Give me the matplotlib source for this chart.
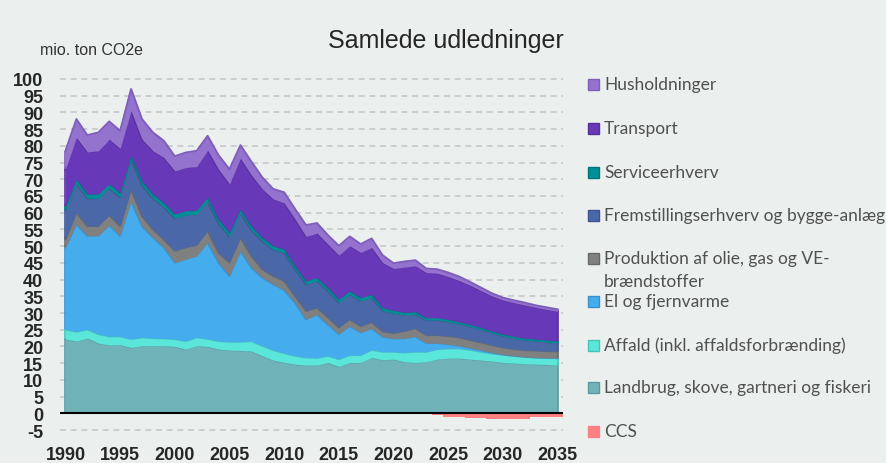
import matplotlib
matplotlib.use("Agg")
import matplotlib.pyplot as plt
import numpy as np

plt.rcParams['axes.unicode_minus'] = False

# data (mio. ton CO2e)
years = np.arange(1990, 2036)

landbrug = [22.2, 21.6, 22.5, 21.0, 20.4, 20.5, 19.7, 20.2, 20.2, 20.2,
            20.0, 19.2, 20.2, 20.0, 19.2, 18.9, 18.8, 18.6, 17.2, 15.9,
            15.2, 14.7, 14.4, 14.4, 15.2, 14.0, 15.2, 15.2, 16.7, 16.0,
            16.2, 15.4, 15.2, 15.4, 16.2, 16.5, 16.5, 16.2, 15.9, 15.6,
            15.2, 15.0, 14.8, 14.7, 14.6, 14.4]
affald = [2.9, 2.8, 2.6, 2.7, 2.6, 2.5, 2.5, 2.5, 2.3, 2.2,
          2.2, 2.4, 2.5, 2.3, 2.4, 2.5, 2.6, 3.0, 3.0, 3.0,
          2.8, 2.5, 2.3, 2.2, 2.0, 2.2, 2.2, 2.2, 2.3, 2.4,
          2.2, 2.8, 3.2, 3.0, 3.0, 2.9, 2.9, 2.8, 2.5, 2.3,
          2.3, 2.2, 2.1, 2.0, 2.0, 2.1]
el = [24.5, 32.2, 28.0, 29.4, 33.3, 30.1, 41.4, 33.3, 30.1, 27.2,
      22.9, 24.5, 24.4, 28.8, 23.5, 19.7, 27.2, 22.0, 20.4, 19.7,
      18.9, 15.9, 11.4, 13.0, 9.4, 7.5, 8.7, 6.8, 6.4, 4.5,
      4.0, 4.2, 4.6, 2.6, 1.8, 1.3, 0.8, 0.6, 0.5, 0.3,
      0.1, 0.0, 0.0, 0.0, 0.0, 0.0]
produktion = [2.4, 3.4, 2.9, 2.9, 3.0, 2.9, 3.4, 3.0, 2.4, 2.4,
              3.5, 3.5, 3.3, 3.5, 2.9, 4.0, 4.0, 3.5, 2.5, 2.5,
              2.7, 2.0, 2.5, 2.0, 2.1, 2.0, 2.0, 1.9, 1.9, 1.6,
              1.6, 2.2, 2.4, 2.4, 2.4, 2.4, 2.5, 2.3, 2.3, 2.2,
              2.1, 2.0, 2.0, 2.0, 2.0, 2.0]
fremstilling = [8.7, 8.7, 8.3, 8.3, 8.0, 8.7, 8.9, 9.2, 9.3, 9.7,
                9.7, 9.7, 9.1, 8.7, 8.8, 7.8, 7.3, 7.8, 8.4, 7.9,
                8.4, 8.0, 8.0, 8.0, 7.9, 7.4, 7.5, 7.5, 7.3, 6.2,
                5.9, 4.8, 4.2, 4.5, 4.5, 4.3, 4.1, 4.1, 3.9, 3.6,
                3.4, 3.2, 3.0, 2.9, 2.7, 2.5]
service = [1.3, 1.3, 1.3, 1.3, 1.3, 1.3, 1.3, 1.3, 1.3, 1.3,
           1.3, 1.3, 1.3, 1.3, 1.3, 1.2, 1.2, 1.2, 1.1, 1.1,
           1.1, 1.0, 1.0, 1.0, 1.0, 1.0, 1.0, 1.0, 1.0, 0.9,
           0.9, 0.8, 0.8, 0.7, 0.7, 0.7, 0.6, 0.6, 0.6, 0.6,
           0.6, 0.6, 0.6, 0.6, 0.6, 0.6]
transport = [11.0, 12.5, 12.6, 12.9, 13.4, 13.2, 13.3, 12.5, 12.9, 13.5,
             12.9, 12.9, 13.0, 14.1, 14.9, 14.5, 15.2, 15.2, 14.5, 14.0,
             13.8, 14.0, 13.3, 13.3, 13.0, 13.2, 13.5, 13.5, 14.0, 13.5,
             12.5, 13.5, 13.7, 13.5, 13.3, 12.8, 12.3, 11.7, 11.0, 10.5,
             10.2, 10.1, 9.9, 9.5, 9.2, 8.9]
husholdninger = [5.5, 5.5, 5.0, 5.5, 5.3, 5.3, 6.5, 6.0, 5.5, 5.0,
                 4.4, 4.5, 4.7, 4.3, 4.2, 4.4, 3.9, 4.0, 3.5, 3.0,
                 3.2, 3.0, 3.4, 3.0, 2.7, 2.8, 2.8, 2.5, 2.7, 2.2,
                 1.6, 1.7, 1.7, 1.2, 1.2, 1.2, 1.2, 1.0, 0.9, 0.8,
                 0.7, 0.7, 0.7, 0.6, 0.6, 0.6]
ccs_years = np.arange(2024, 2036)
ccs = [-0.6, -1.0, -1.0, -1.4, -1.4, -1.8, -1.8, -1.8, -1.8, -1.1, -1.1, -1.1]

# bottom to top
layers = [landbrug, affald, el, produktion, fremstilling, service, transport, husholdninger]
fills = ['#6fb2b8', '#5ae6d8', '#45acee', '#808080', '#4a68a8', '#008f96', '#6738b8', '#9473cf']
edges = ['#5c9a9f', '#47c4b8', '#3a90cc', '#686868', '#3d5690', '#00767c', '#5a2f9e', '#7e5dbb']

legend_labels = ['Husholdninger', 'Transport', 'Serviceerhverv',
                 'Fremstillingserhverv og bygge-anlæg',
                 'Produktion af olie, gas og VE-\nbrændstoffer',
                 'El og fjernvarme', 'Affald (inkl. affaldsforbrænding)',
                 'Landbrug, skove, gartneri og fiskeri', 'CCS']
ccs_color = '#ff8080'

bg = '#ebf0ee'
W, H = 887, 464
fig = plt.figure(figsize=(W / 100, H / 100), dpi=100, facecolor=bg)
ax = fig.add_axes([60 / W, 31.3 / H, 503 / W, 354.4 / H])
ax.set_facecolor(bg)

stack = np.cumsum(np.array(layers, dtype=float), axis=0)
lower = np.zeros(len(years))
for i, upper in enumerate(stack):
    ax.fill_between(years, lower, upper, color=fills[i], lw=0, zorder=2 + i)
    ax.plot(years, upper, color=edges[i], lw=1.4, zorder=2 + i, solid_joinstyle='round')
    ax.vlines([years[0], years[-1]], [lower[0], lower[-1]], [upper[0], upper[-1]],
              color=edges[i], lw=1.2, zorder=2 + i)
    lower = upper

ax.bar(ccs_years, ccs, width=1.0, color=ccs_color, lw=0, zorder=3)
ax.axhline(0, color='black', lw=1.5, zorder=20)

ax.set_xlim(1989.5, 2035.5)
ax.set_ylim(-5.5, 100.5)
ax.set_xticks(np.arange(1990, 2036, 5))
ax.set_yticks(np.arange(-5, 101, 5))
ax.yaxis.grid(True, color='#c8c8c8', lw=1.2, linestyle=(0, (3.6, 2.8)))
ax.set_axisbelow(True)
for s in ax.spines.values():
    s.set_visible(False)
ax.tick_params(length=0, labelsize=13, labelcolor='#262626')
ax.tick_params(axis='x', pad=10)
ax.tick_params(axis='y', pad=12)
for lab in ax.get_xticklabels() + ax.get_yticklabels():
    lab.set_fontfamily('Liberation Sans')
    lab.set_fontweight('bold')

fig.text(40 / W, 1 - 55 / H, 'mio. ton CO2e', fontsize=11.5, family='Liberation Sans',
         color='#333333', va='baseline')
fig.text(446 / W, 1 - 48 / H, 'Samlede udledninger', fontsize=18, family='Liberation Sans',
         color='#262626', ha='center', va='baseline')

# legend, drawn by hand to keep the fixed row spacing
legend_fills = fills[::-1] + [ccs_color]
legend_edges = edges[::-1] + [ccs_color]
row_y = [85, 129, 173, 216, 259, 302, 346, 388, 432]
for lab, fc, ec, yc in zip(legend_labels, legend_fills, legend_edges, row_y):
    fig.patches.append(plt.Rectangle((588 / W, 1 - (yc + 5.5) / H), 11 / W, 11 / H,
                                     transform=fig.transFigure, facecolor=fc,
                                     edgecolor=ec, lw=1))
    for k, line in enumerate(lab.split('\n')):
        fig.text(604 / W, 1 - (yc + 22.7 * k) / H, line, fontsize=12.5, family='Lato',
                 color='#505050', va='center')

fig.savefig('out.png', dpi=100, facecolor=bg)
